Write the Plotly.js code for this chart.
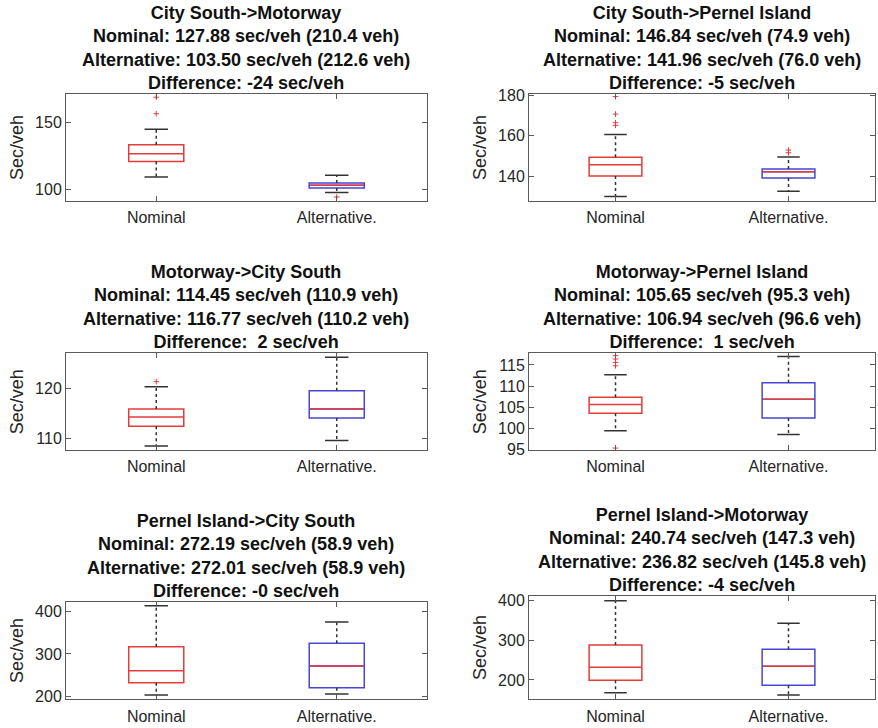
<!DOCTYPE html>
<html>
<head>
<meta charset="utf-8">
<script src="https://cdn.plot.ly/plotly-3.0.1.min.js"></script>
<style>html,body{margin:0;padding:0;background:#fff;}#chart{width:878px;height:728px;}</style>
</head>
<body>
<div id="chart"></div>
<script>
// ---- Data ----
const categories = ['Nominal', 'Alternative.'];
const panelTitles = [
  'City South->Motorway<br>Nominal: 127.88 sec/veh (210.4 veh)<br>Alternative: 103.50 sec/veh (212.6 veh)<br>Difference: -24 sec/veh',
  'City South->Pernel Island<br>Nominal: 146.84 sec/veh (74.9 veh)<br>Alternative: 141.96 sec/veh (76.0 veh)<br>Difference: -5 sec/veh',
  'Motorway->City South<br>Nominal: 114.45 sec/veh (110.9 veh)<br>Alternative: 116.77 sec/veh (110.2 veh)<br>Difference:  2 sec/veh',
  'Motorway->Pernel Island<br>Nominal: 105.65 sec/veh (95.3 veh)<br>Alternative: 106.94 sec/veh (96.6 veh)<br>Difference:  1 sec/veh',
  'Pernel Island->City South<br>Nominal: 272.19 sec/veh (58.9 veh)<br>Alternative: 272.01 sec/veh (58.9 veh)<br>Difference: -0 sec/veh',
  'Pernel Island->Motorway<br>Nominal: 240.74 sec/veh (147.3 veh)<br>Alternative: 236.82 sec/veh (145.8 veh)<br>Difference: -4 sec/veh'
];
const yAxisLabel = 'Sec/veh';

const q1Nominal     = [120.9, 140.0, 112.5, 103.6, 232.2, 199.2];
const medianNominal = [126.6, 145.6, 114.3, 105.7, 260.5, 231.7];
const q3Nominal     = [133.3, 149.3, 115.9, 107.4, 317.3, 287.5];
const lowerNominal  = [109.4, 129.9, 108.6,  99.5, 203.1, 168.3];
const upperNominal  = [144.8, 160.7, 120.3, 112.7, 414.2, 398.3];
const outliersNominal = [
  [156.4, 168.7],
  [165.2, 166.5, 170.8, 179.5],
  [121.3],
  [95.4, 114.8, 115.6, 116.4, 117.2],
  [],
  []
];

const q1Alt     = [101.2, 139.0, 114.1, 102.5, 220.3, 186.7];
const medianAlt = [103.2, 142.2, 115.9, 106.9, 271.6, 234.2];
const q3Alt     = [104.9, 143.5, 119.5, 110.8, 325.3, 276.7];
const lowerAlt  = [ 97.8, 132.5, 109.7,  98.6, 205.4, 162.5];
const upperAlt  = [110.7, 149.5, 126.1, 117.0, 375.7, 341.7];
const outliersAlt = [
  [94.5],
  [151.6, 152.9],
  [],
  [],
  [],
  []
];

const yRanges = [[91.5, 171.1], [127.6, 180.8], [107.8, 126.9], [94.95, 117.75], [192.9, 423.6], [151.7, 410.8]];
const yDticks = [50, 20, 10, 5, 100, 100];

// ---- Styling / layout ----
const RED = '#e53b3b';
const BLUE = '#4646d2';
const WHISK = '#333333';
const FRAME = '#5a5a5a';
const FONT = 'Liberation Sans, Arial, Helvetica, sans-serif';

const xDomains = [[0.07517, 0.48633], [0.60251, 0.99658]];
const yDomains = [
  [0.72390, 0.87088], [0.72390, 0.87088],
  [0.38187, 0.51470], [0.38187, 0.51470],
  [0.03942, 0.17349], [0.03942, 0.18173]
];

const BOXW = 0.305;
const CAPW = 0.13;

const data = [];
const layout = {
  width: 878, height: 728,
  margin: {l: 0, r: 0, t: 0, b: 0},
  paper_bgcolor: '#ffffff', plot_bgcolor: '#ffffff',
  showlegend: false,
  boxmode: 'overlay',
  font: {family: FONT, color: '#262626'},
  annotations: []
};

for (let i = 0; i < 6; i++) {
  const sfx = i === 0 ? '' : String(i + 1);
  const xa = 'x' + sfx, ya = 'y' + sfx;
  const c0 = categories[0], c1 = categories[1];

  // whisker dotted lines
  data.push({
    type: 'scatter', mode: 'lines', xaxis: xa, yaxis: ya, hoverinfo: 'skip',
    x: [c0, c0, null, c0, c0, null, c1, c1, null, c1, c1],
    y: [q3Nominal[i], upperNominal[i], null, q1Nominal[i], lowerNominal[i], null,
        q3Alt[i], upperAlt[i], null, q1Alt[i], lowerAlt[i]],
    line: {color: WHISK, width: 1.5, dash: 'dot'}, connectgaps: false
  });
  // whisker caps
  data.push({
    type: 'box', xaxis: xa, yaxis: ya, hoverinfo: 'skip', boxpoints: false,
    x: [c0, c0, c1, c1],
    q1: [upperNominal[i], lowerNominal[i], upperAlt[i], lowerAlt[i]],
    median: [upperNominal[i], lowerNominal[i], upperAlt[i], lowerAlt[i]],
    q3: [upperNominal[i], lowerNominal[i], upperAlt[i], lowerAlt[i]],
    lowerfence: [upperNominal[i], lowerNominal[i], upperAlt[i], lowerAlt[i]],
    upperfence: [upperNominal[i], lowerNominal[i], upperAlt[i], lowerAlt[i]],
    width: CAPW, whiskerwidth: 0,
    line: {color: WHISK, width: 1.5}, fillcolor: 'rgba(0,0,0,0)'
  });
  // nominal box (red)
  data.push({
    type: 'box', xaxis: xa, yaxis: ya, hoverinfo: 'skip', boxpoints: false,
    x: [c0], q1: [q1Nominal[i]], median: [medianNominal[i]], q3: [q3Nominal[i]],
    lowerfence: [q1Nominal[i]], upperfence: [q3Nominal[i]],
    width: BOXW, whiskerwidth: 0,
    line: {color: RED, width: 1.5}, fillcolor: 'rgba(0,0,0,0)'
  });
  // alternative box (blue)
  data.push({
    type: 'box', xaxis: xa, yaxis: ya, hoverinfo: 'skip', boxpoints: false,
    x: [c1], q1: [q1Alt[i]], median: [medianAlt[i]], q3: [q3Alt[i]],
    lowerfence: [q1Alt[i]], upperfence: [q3Alt[i]],
    width: BOXW, whiskerwidth: 0,
    line: {color: BLUE, width: 1.5}, fillcolor: 'rgba(0,0,0,0)'
  });
  // alternative median (red)
  data.push({
    type: 'box', xaxis: xa, yaxis: ya, hoverinfo: 'skip', boxpoints: false,
    x: [c1], q1: [medianAlt[i]], median: [medianAlt[i]], q3: [medianAlt[i]],
    lowerfence: [medianAlt[i]], upperfence: [medianAlt[i]],
    width: BOXW - 0.01, whiskerwidth: 0,
    line: {color: RED, width: 1.5}, fillcolor: 'rgba(0,0,0,0)'
  });
  // outliers
  const ox = outliersNominal[i].map(() => c0).concat(outliersAlt[i].map(() => c1));
  const oy = outliersNominal[i].concat(outliersAlt[i]);
  if (oy.length) {
    data.push({
      type: 'scatter', mode: 'markers', xaxis: xa, yaxis: ya, hoverinfo: 'skip',
      x: ox, y: oy, cliponaxis: false,
      marker: {symbol: 'cross-thin-open', size: 4, color: RED, line: {color: RED, width: 1}}
    });
  }

  layout['xaxis' + sfx] = {
    domain: xDomains[i % 2], anchor: ya,
    type: 'category', categoryorder: 'array', categoryarray: categories,
    range: [-0.5, 1.5],
    showline: true, linecolor: FRAME, linewidth: 1, mirror: 'ticks',
    ticks: 'inside', ticklen: 5, tickcolor: FRAME, tickwidth: 1,
    ticklabelstandoff: 2,
    showgrid: false, zeroline: false,
    tickfont: {family: FONT, size: 16, color: '#262626'}
  };
  layout['yaxis' + sfx] = {
    domain: yDomains[i], anchor: xa,
    range: yRanges[i], dtick: yDticks[i], tick0: 0,
    showline: true, linecolor: FRAME, linewidth: 1, mirror: 'ticks',
    ticks: 'inside', ticklen: 5, tickcolor: FRAME, tickwidth: 1,
    showgrid: false, zeroline: false,
    tickfont: {family: FONT, size: 16, color: '#262626'},
    title: {text: yAxisLabel, font: {family: FONT, size: 18, color: '#262626'}, standoff: 6}
  };
  layout.annotations.push({
    xref: xa + ' domain', yref: ya + ' domain', x: 0.5, y: 1,
    xanchor: 'center', yanchor: 'bottom', yshift: -1,
    showarrow: false, align: 'center',
    text: '<b>' + panelTitles[i].split('<br>').join('</b><br><b>') + '</b>',
    font: {family: FONT, size: 18, color: '#111111'}
  });
}

Plotly.newPlot('chart', data, layout, {displayModeBar: false, staticPlot: true});
</script>
</body>
</html>
